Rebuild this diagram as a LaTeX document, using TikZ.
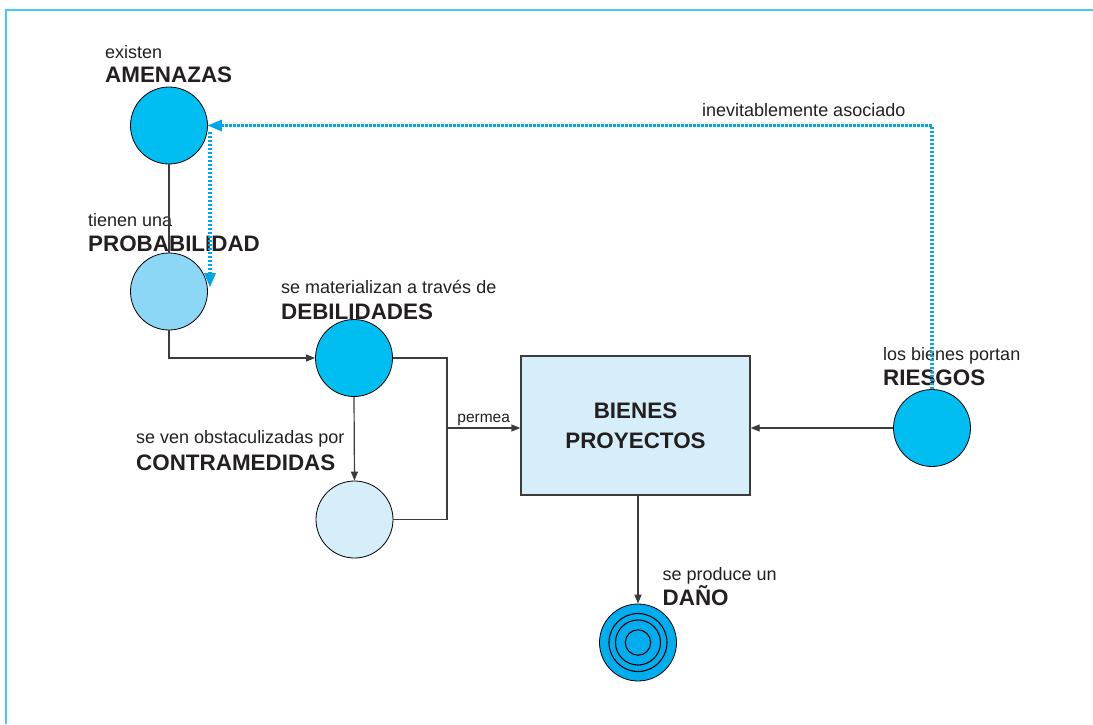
\documentclass[tikz,border=0pt]{standalone}
\usepackage{fontspec}
\setmainfont{Liberation Sans}
\usetikzlibrary{arrows.meta}
\definecolor{frameblue}{RGB}{70,200,245}
\definecolor{dotblue}{RGB}{0,165,235}
\definecolor{cdark}{RGB}{0,190,242}
\definecolor{cmid}{RGB}{140,215,246}
\definecolor{clight}{RGB}{213,238,250}
\definecolor{cdano}{RGB}{0,174,239}
\definecolor{txt}{RGB}{35,31,32}
\definecolor{conn}{RGB}{60,60,60}
\begin{document}
\begin{tikzpicture}[x=1pt,y=-1pt,
  smalltxt/.style={font=\fontsize{18}{20}\selectfont, text=txt, anchor=base west, inner sep=0pt},
  bigtxt/.style={font=\fontsize{22.4}{26}\selectfont\bfseries, text=txt, anchor=base west, inner sep=0pt},
  ball/.style={circle, draw=black, line width=0.8pt, minimum size=77pt, inner sep=0pt},
  conline/.style={draw=conn, line width=1.2pt},
  arr/.style={conline, -{Triangle[length=9pt,width=7pt]}},
  dotline/.style={draw=dotblue, line width=3.2pt, dash pattern=on 2.4pt off 1.6pt},
  dotarr/.style={dotline, -{Triangle[length=14pt,width=12pt,line width=0pt]}}
]
\useasboundingbox (0,0) rectangle (1093,724);
\draw[draw=frameblue, line width=2pt] (6,724) -- (6,10) -- (1093,10);

% nodes
\node[ball, fill=cdark] (amen) at (169,125.5) {};
\node[ball, fill=cmid] (prob) at (169,291.5) {};
\node[ball, fill=cdark] (deb) at (354,358) {};
\node[ball, fill=clight] (con) at (354.5,519.5) {};
\node[ball, fill=cdark] (ries) at (932,428) {};
\node[ball, fill=cdano] (dano) at (638,642.5) {};
\node[draw=conn, line width=1.2pt, fill=clight, minimum width=229pt, minimum height=139pt, inner sep=0pt,
      align=center, font=\fontsize{22.4}{30}\selectfont\bfseries, text=txt] (box) at (635.5,425.5) {BIENES\\PROYECTOS};

\foreach \r in {29,22.5,12.7} \draw[black, line width=1.1pt] (dano.center) circle[radius=\r];

% labels
\node[smalltxt] (l1) at (105,58) {existen};
\node[bigtxt] (b1) at (105,82.5) {AMENAZAS};
\node[smalltxt] (l2) at (88,226.5) {tienen una};
\node[smalltxt] (l3) at (281,293.5) {se materializan a través de};
\node[bigtxt] (b3) at (281,319) {DEBILIDADES};
\node[smalltxt] (l4) at (136,443.5) {se ven obstaculizadas por};
\node[bigtxt] (b4) at (136,470) {CONTRAMEDIDAS};
\node[smalltxt] (l5) at (883,360.5) {los bienes portan};
\node[smalltxt] (l6) at (662.5,580) {se produce un};
\node[bigtxt] (b6) at (662.5,605) {DAÑO};
\node[smalltxt] (l7) at (702,116.5) {inevitablemente asociado};

% connectors
\coordinate (jt) at (447,358);
\coordinate (jm) at (447,428);
\coordinate (jb) at (447,519.5);
\draw[conline] (amen.south) -- (prob.north);
\draw[arr] (prob.south) |- (deb.west);
\draw[arr] (deb.south) -- (con.north);
\draw[conline] (deb.east) -- (jt) -- (jb) -- (con.east);
\draw[arr] (jm) -- (jm -| box.west) node[midway, above=2pt, font=\fontsize{15.5}{17}\selectfont, text=txt, inner sep=0pt] (perm) {permea};
\draw[arr] (ries.west) -- (ries.west -| box.east);
\draw[arr] (box.south -| dano.north) -- (dano.north);

% labels drawn over the amen-prob line
\node[bigtxt] (b2) at (88,251) {PROBABILIDAD};
\node[bigtxt] (b5) at (883,385) {RIESGOS};

% dotted
\coordinate (d1) at (210,132);
\coordinate (d2) at (210,287);
\draw[dotline] (ries.north) |- ([xshift=14pt]amen.east);
\draw[dotarr] ([xshift=14pt]amen.east) -- (amen.east);
\draw[dotarr] (d1) -- (d2);
\end{tikzpicture}
\end{document}
